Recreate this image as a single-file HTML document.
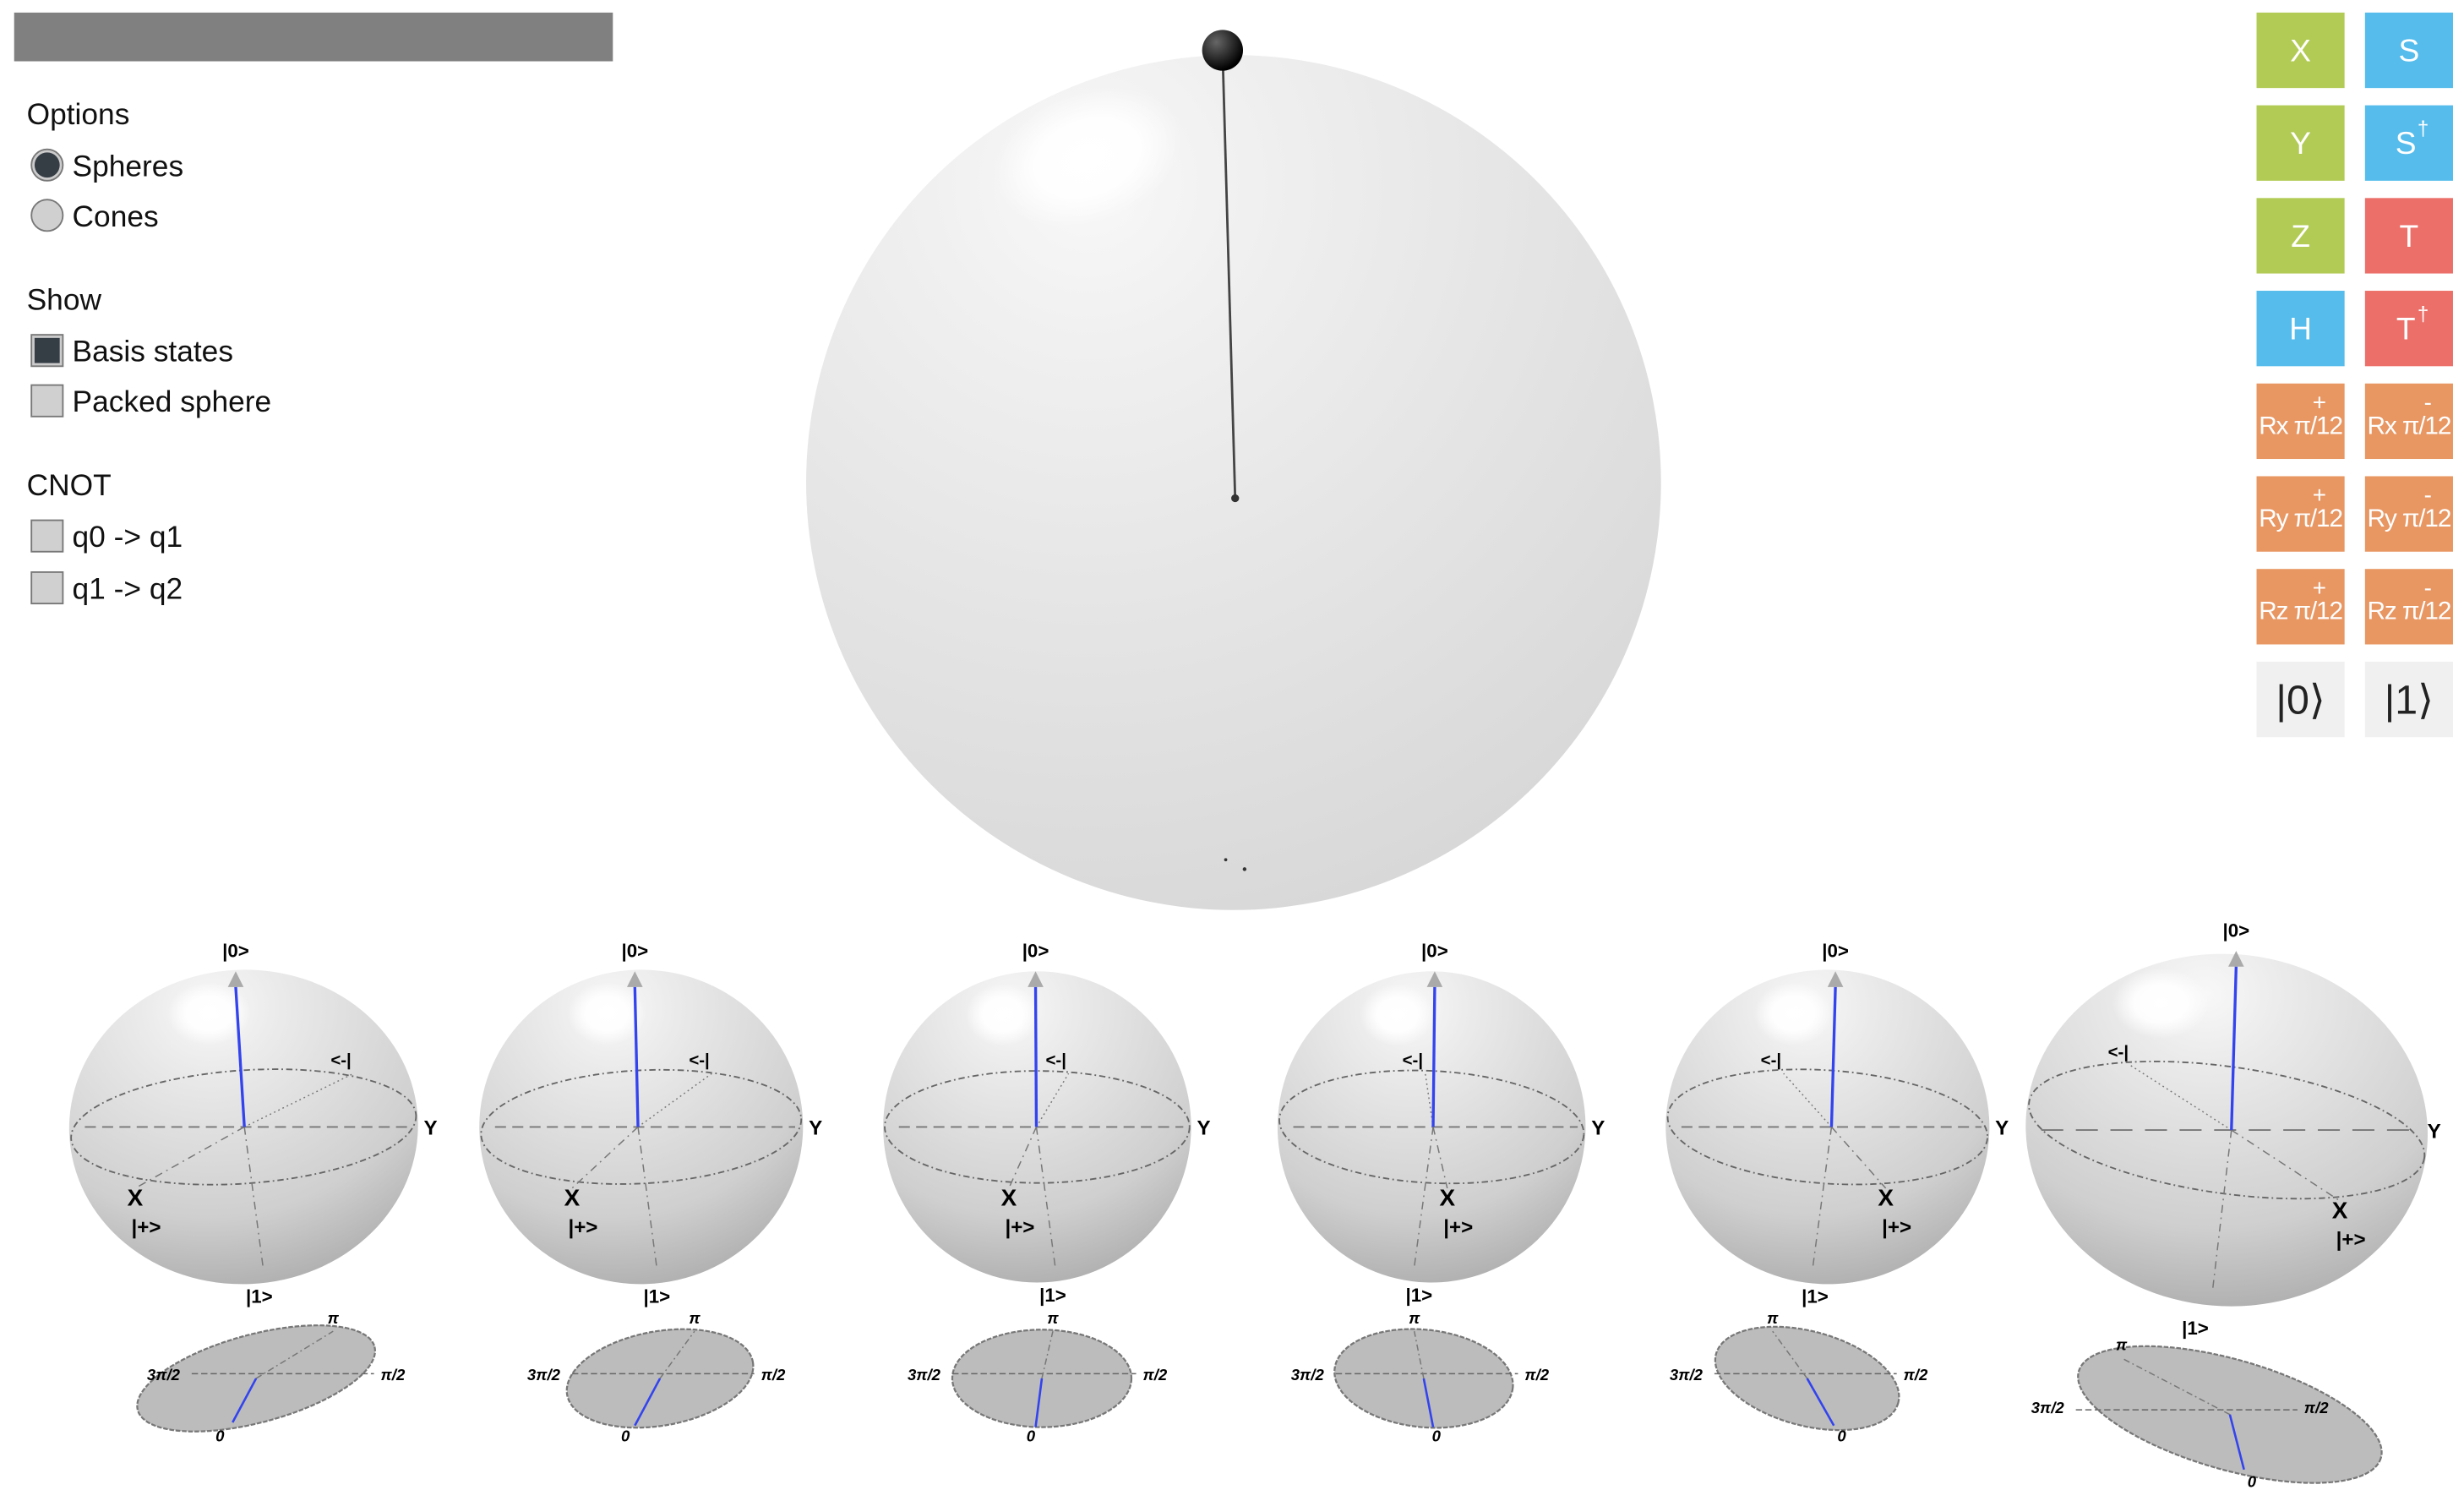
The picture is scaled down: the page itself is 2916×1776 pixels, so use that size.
<!DOCTYPE html>
<html><head><meta charset="utf-8">
<style>
html,body{margin:0;padding:0;background:#fff;}
svg{display:block;}
text{font-family:"Liberation Sans",sans-serif;}
</style></head>
<body>
<svg id="root" width="2916" height="1776" viewBox="0 0 1568 955" xmlns="http://www.w3.org/2000/svg">
<defs>
<radialGradient id="mainG" cx="0.33" cy="0.15" r="0.95">
<stop offset="0" stop-color="#f8f8f8"/><stop offset="0.2" stop-color="#f0f0f0"/><stop offset="0.5" stop-color="#e6e6e6"/><stop offset="1" stop-color="#d6d6d6"/>
</radialGradient>
<radialGradient id="smallG" cx="0.42" cy="0.12" r="0.95">
<stop offset="0" stop-color="#f8f8f8"/><stop offset="0.2" stop-color="#ebebeb"/><stop offset="0.7" stop-color="#cfcfcf"/><stop offset="1" stop-color="#a9a9a9"/>
</radialGradient>
<radialGradient id="hl"><stop offset="0" stop-color="#fff" stop-opacity="1"/><stop offset="0.55" stop-color="#fff" stop-opacity="0.9"/><stop offset="1" stop-color="#fff" stop-opacity="0"/></radialGradient>
<radialGradient id="ballG" cx="0.35" cy="0.3" r="0.7"><stop offset="0" stop-color="#666"/><stop offset="1" stop-color="#000"/></radialGradient>
</defs>

<rect x="9" y="8" width="381" height="31" fill="#808080"/>

<g font-size="19" fill="#111">
<text x="17" y="79">Options</text>
<g><circle cx="30" cy="105" r="10" fill="#ccc" stroke="#777" stroke-width="1"/><circle cx="30" cy="105" r="8" fill="#353d45"/><text x="46" y="112">Spheres</text></g>
<g><circle cx="30" cy="137" r="10" fill="#d0d0d0" stroke="#777" stroke-width="1"/><text x="46" y="144">Cones</text></g>
<text x="17" y="197">Show</text>
<g><rect x="20" y="213" width="20" height="20" fill="#ccc" stroke="#777"/><rect x="22" y="215" width="16" height="16" fill="#353d45"/><text x="46" y="230">Basis states</text></g>
<g><rect x="20" y="245" width="20" height="20" fill="#d0d0d0" stroke="#777"/><text x="46" y="262">Packed sphere</text></g>
<text x="17" y="315">CNOT</text>
<g><rect x="20" y="331" width="20" height="20" fill="#d0d0d0" stroke="#777"/><text x="46" y="348">q0 -&gt; q1</text></g>
<g><rect x="20" y="364" width="20" height="20" fill="#d0d0d0" stroke="#777"/><text x="46" y="381">q1 -&gt; q2</text></g>
</g>

<g>
<circle cx="785" cy="307" r="272" fill="url(#mainG)"/>
<ellipse cx="692" cy="100" rx="62" ry="42" fill="url(#hl)" transform="rotate(-20 692 100)"/>
<line x1="778" y1="33" x2="786" y2="317" stroke="#444" stroke-width="1.5"/>
<circle cx="786" cy="317" r="2.5" fill="#333"/>
<circle cx="778" cy="32" r="13" fill="url(#ballG)"/>
<circle cx="780" cy="547" r="1" fill="#333"/><circle cx="792" cy="553" r="1.2" fill="#333"/>
</g>

<g id="gates" font-size="20" fill="#fff" text-anchor="middle"></g>
<g id="spheres"></g>
</svg>
<script>
const NS="http://www.w3.org/2000/svg";
function mk(tag,attrs,parent,txt){const e=document.createElementNS(NS,tag);for(const k in attrs)e.setAttribute(k,attrs[k]);if(txt!==undefined)e.textContent=txt;parent.appendChild(e);return e;}

// gate buttons
const gateLabels=[["X","S"],["Y","S†"],["Z","T"],["H","T†"],["Rx π/12","Rx π/12"],["Ry π/12","Ry π/12"],["Rz π/12","Rz π/12"],["|0⟩","|1⟩"]];
const gateColors=[["#b2cb55","#55bcec"],["#b2cb55","#55bcec"],["#b2cb55","#ec6f69"],["#55bcec","#ec6f69"],["#e89662","#e89662"],["#e89662","#e89662"],["#e89662","#e89662"],["#f0f0f0","#f0f0f0"]];
const gates=document.getElementById('gates');
gateLabels.forEach((row,r)=>{row.forEach((lab,c)=>{
  const x=1436+c*69,y=8+r*59;
  const g=mk('g',{},gates);
  
  
  mk('rect',{x:x,y:y,width:56,height:48,fill:gateColors[r][c]},g);
  if(r<4){
    const base=lab.replace('†','');
    mk('text',{x:x+28-(lab.includes('†')?2:0),y:y+31},g,base);
    if(lab.includes('†'))mk('text',{x:x+37,y:y+19,'font-size':13},g,'†');
  }else if(r<7){
    mk('text',{x:x+28,y:y+32,'font-size':16,'letter-spacing':'-0.6'},g,lab);
    mk('text',{x:x+40,y:y+17,'font-size':15},g,c==0?'+':'-');
  }else{
    mk('text',{x:x+28,y:y+33,'font-size':26,fill:'#222','font-family':'Liberation Serif, serif'},g,lab);
  }
});});

// small Bloch spheres
const sphereCX=[155,408,660,911,1163,1417];
const sphereCY=[717,717,717,717,717,719];
const sphereRX=[111,103,98,98,103,128];
const sphereRY=[100,100,99,99,100,112];
const eqTilt=[-4,-3,0,3,4,8];
const vecTip=[[150,620],[404,620],[659,620],[913,620],[1168,620],[1423,607]];
const xLabel=[[86,762],[364,762],[642,762],[921,762],[1200,762],[1489,770]];
const minusLabel=[[217,678],[445,678],[672,678],[899,678],[1127,678],[1348,673]];
const diskC=[[163,877],[420,877],[663,877],[906,877],[1150,877],[1419,900]];
const diskR=[[78,28],[60,30],[57,31],[57,31],[60,30],[100,35]];
const diskRot=[-15,-10,0,6,15,16];
const phaseTip=[[148,905],[404,907],[659,908],[912,908],[1167,907],[1428,935]];
const diskLabels=[
 [[212,842],[250,878],[104,878],[140,917]],
 [[442,842],[492,878],[346,878],[398,917]],
 [[670,842],[735,878],[588,878],[656,917]],
 [[900,842],[978,878],[832,878],[914,917]],
 [[1128,842],[1219,878],[1073,878],[1172,917]],
 [[1350,859],[1474,899],[1303,899],[1433,946]]];
const diskTexts=[["π","π/2","3π/2","0"]];

const sp=document.getElementById('spheres');
for(let i=0;i<6;i++){
  const g=mk('g',{},sp);
  
  
  const cx=sphereCX[i],cy=sphereCY[i],rx=sphereRX[i],ry=sphereRY[i];
  mk('ellipse',{cx:cx,cy:cy,rx:rx,ry:ry,fill:'url(#smallG)',transform:`rotate(${eqTilt[i]*0.6} ${cx} ${cy})`},g);
  mk('ellipse',{cx:cx-22+(i==5?-20:0),cy:cy-ry*0.72,rx:rx*0.24,ry:ry*0.2,fill:'url(#hl)'},g);
  const eq=mk('ellipse',{cx:cx,cy:cy,rx:rx-1,ry:ry*0.36,fill:'none',stroke:'#666','stroke-width':1,'stroke-dasharray':'4 2 1 2',transform:`rotate(${eqTilt[i]} ${cx} ${cy})`},g);
  
  
  mk('line',{x1:cx-rx+10,y1:cy,x2:cx+rx-5,y2:cy,stroke:'#777','stroke-width':1,'stroke-dasharray':i==5?'14 8':'7 4'},g);
  const bx=(cx+vecTip[i][0])/2+ (i==0?3:0), by=cy;
  mk('line',{x1:bx,y1:by,x2:xLabel[i][0],y2:xLabel[i][1]-6,stroke:'#777','stroke-width':0.8,'stroke-dasharray':'5 3 1 3'},g);
  mk('line',{x1:bx,y1:by,x2:minusLabel[i][0]+8,y2:minusLabel[i][1]+5,stroke:'#777','stroke-width':0.8,'stroke-dasharray':'1 2'},g);
  mk('line',{x1:bx,y1:by,x2:bx+(i<3?12:-12),y2:cy+ry-10,stroke:'#777','stroke-width':0.8,'stroke-dasharray':'5 3 1 3'},g);
  const v=mk('line',{x1:bx,y1:by,x2:vecTip[i][0],y2:vecTip[i][1]+8,stroke:'#3344ee','stroke-width':1.8},g);
  
  
  const tx=vecTip[i][0],ty=vecTip[i][1];
  mk('polygon',{points:`${tx},${ty-2} ${tx-5},${ty+8} ${tx+5},${ty+8}`,fill:'#aaa'},g);
  mk('text',{x:tx,y:ty-11,'font-size':12,'font-weight':'bold','text-anchor':'middle'},g,'|0>');
  mk('text',{x:cx+(i<3?10:-8)+(i==5?-12:0),y:cy+ry+12+(i==5?6:0),'font-size':12,'font-weight':'bold','text-anchor':'middle'},g,'|1>');
  mk('text',{x:xLabel[i][0],y:xLabel[i][1]+5,'font-size':15,'font-weight':'bold','text-anchor':'middle'},g,'X');
  mk('text',{x:xLabel[i][0]+7,y:xLabel[i][1]+23,'font-size':13,'font-weight':'bold','text-anchor':'middle'},g,'|+>');
  mk('text',{x:minusLabel[i][0],y:minusLabel[i][1],'font-size':11,'font-weight':'bold','text-anchor':'middle'},g,'<-|');
  mk('text',{x:cx+rx+8+(i==5?-4:0),y:cy+5,'font-size':13,'font-weight':'bold','text-anchor':'middle'},g,'Y');

  // phase disk
  const d=mk('g',{},sp);
  
  
  const [dx,dy]=diskC[i];
  mk('ellipse',{cx:dx,cy:dy,rx:diskR[i][0],ry:diskR[i][1],fill:'#bcbcbc',stroke:'#777','stroke-width':1.2,'stroke-dasharray':'3 1',transform:`rotate(${diskRot[i]} ${dx} ${dy})`},d);
  mk('line',{x1:diskLabels[i][2][0]+18,y1:dy-3,x2:diskLabels[i][1][0]-12,y2:dy-3,stroke:'#666','stroke-width':0.8,'stroke-dasharray':'4 2'},d);
  mk('line',{x1:dx,y1:dy,x2:diskLabels[i][0][0],y2:diskLabels[i][0][1]+5,stroke:'#777','stroke-width':0.8,'stroke-dasharray':'4 2 1 2'},d);
  mk('line',{x1:dx,y1:dy,x2:phaseTip[i][0],y2:phaseTip[i][1],stroke:'#3344ee','stroke-width':1.4},d);
  diskLabels[i].forEach((p,k)=>{
    mk('text',{x:p[0],y:p[1],'font-size':10,'font-weight':'bold','font-style':'italic','text-anchor':'middle'},d,diskTexts[0][k]);
  });
}
</script>
</body></html>
